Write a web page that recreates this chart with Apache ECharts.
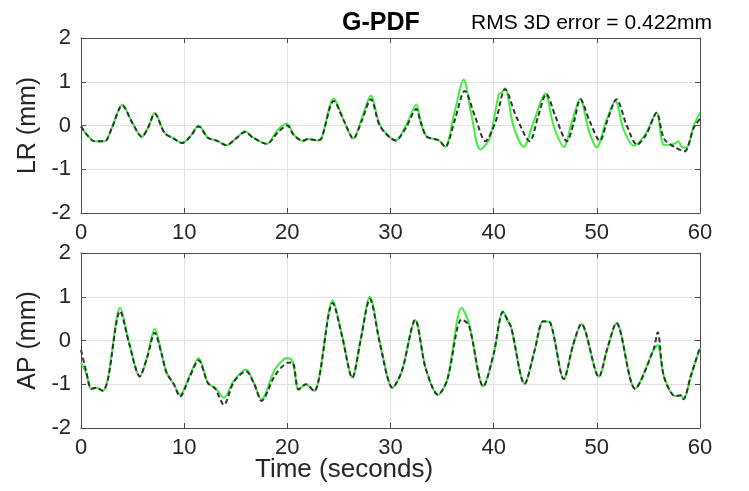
<!DOCTYPE html>
<html>
<head>
<meta charset="utf-8">
<title>G-PDF</title>
<script src="https://cdn.jsdelivr.net/npm/echarts@6/dist/echarts.min.js"></script>
<style>
  html, body { margin: 0; padding: 0; background: #fff; }
  #chart { width: 749px; height: 491px; }
</style>
</head>
<body>
<div id="chart"></div>
<script>
// LR panel - reference motion (black dashed)
const lrRefTime = [0, 0.6, 1.3, 2.3, 3.0, 4.0, 5.0, 5.9, 6.5, 7.15, 8.1, 9.0, 9.8, 10.6, 11.4, 12.3, 13.2, 14.1, 15.0, 15.9, 16.7, 18.0, 19.1, 20.0,
  20.6, 21.5, 22.0, 22.9, 23.3, 24.5, 25.5, 26.4, 27.2, 28.1, 29.0, 30.5, 31.5, 32.5, 32.9, 33.5, 34.7, 35.3, 36.2, 37.2, 38.2, 39.2,
  40.2, 41.1, 42.2, 43.5, 44.3, 45.1, 46.0, 47.1, 47.8, 48.4, 49.3, 50.3, 51.0, 51.9, 52.9, 53.9, 54.8, 55.8, 56.5, 57.5, 58.5, 59.4, 60];
const lrRefVal = [-0.02, -0.22, -0.36, -0.36, -0.05, 0.46, 0.05, -0.26, -0.05, 0.27, -0.17, -0.30, -0.40, -0.25, -0.02, -0.28, -0.35, -0.45, -0.30, -0.15, -0.28, -0.42, -0.15, 0.00,
  -0.21, -0.35, -0.31, -0.34, -0.30, 0.56, 0.10, -0.30, 0.10, 0.60, -0.02, -0.34, -0.05, 0.38, 0.10, -0.25, -0.34, -0.49, 0.10, 0.79, 0.20, -0.36,
  0.10, 0.83, 0.20, -0.36, 0.20, 0.72, 0.20, -0.36, 0.10, 0.60, 0.10, -0.35, 0.10, 0.60, 0.00, -0.44, -0.20, 0.29, -0.30, -0.49, -0.59, -0.05, 0.15];

// LR panel - G-PDF estimate (green)
const lrEstTime = [0, 0.6, 1.3, 2.3, 3.0, 4.0, 5.0, 5.9, 6.5, 7.15, 8.1, 9.0, 9.8, 10.6, 11.4, 12.3, 13.2, 14.1, 15.0, 15.9, 16.7, 18.0, 19.1, 20.0,
  20.6, 21.5, 22.0, 22.9, 23.3, 24.5, 25.5, 26.4, 27.2, 28.1, 29.0, 30.5, 31.5, 32.5, 32.9, 33.5, 34.7, 35.3, 36.2, 37.1, 37.8, 38.7,
  39.6, 40.5, 40.8, 41.1, 41.9, 42.9, 43.9, 45.0, 45.8, 46.8, 47.6, 48.4, 49.2, 50.0, 50.9, 51.8, 52.6, 53.6, 54.7, 55.8, 56.5, 57.5, 57.9, 58.3, 58.7, 59.4, 60];
const lrEstVal = [-0.02, -0.22, -0.36, -0.36, -0.05, 0.48, 0.05, -0.26, -0.05, 0.29, -0.17, -0.30, -0.40, -0.25, 0.00, -0.28, -0.35, -0.45, -0.30, -0.13, -0.28, -0.42, -0.09, 0.04,
  -0.21, -0.35, -0.31, -0.34, -0.30, 0.62, 0.10, -0.30, 0.15, 0.68, 0.00, -0.34, 0.00, 0.48, 0.10, -0.25, -0.34, -0.49, 0.30, 1.05, 0.30, -0.55,
  -0.30, 0.72, 0.76, 0.85, 0.00, -0.49, 0.10, 0.73, 0.00, -0.49, 0.10, 0.62, -0.10, -0.50, 0.10, 0.56, -0.10, -0.46, -0.20, 0.29, -0.44, -0.42, -0.36, -0.50, -0.50, 0.00, 0.30];

// AP panel - shared sample times
const apTime = [0, 0.5, 1.0, 1.5, 2.1, 2.6, 3.8, 4.7, 5.7, 6.4, 7.15, 7.8, 8.3, 9.0, 9.6, 10.5, 11.4, 12.3, 13.0, 13.85, 14.8, 16.0, 16.8, 17.5, 18.8, 20.0,
  20.5, 21.1, 21.8, 22.6, 24.4, 25.3, 26.3, 27.1, 28.0, 29.0, 30.2, 31.1, 32.4, 33.4, 34.6, 35.5, 36.9, 37.6, 39.0, 40.0,
  40.9, 41.4, 41.7, 43.0, 44.0, 44.8, 45.5, 46.8, 47.7, 48.5, 50.2, 51.0, 51.9, 53.7, 55.5, 55.9, 56.5, 57.6, 58.1, 58.4, 59.1, 60];
const apRefVal = [-0.22, -0.70, -1.10, -1.08, -1.15, -0.90, 0.67, -0.10, -0.82, -0.40, 0.18, -0.30, -0.74, -1.00, -1.28, -0.85, -0.45, -0.97, -1.10, -1.47, -0.95, -0.70, -1.00, -1.38, -0.80, -0.51,
  -0.50, -1.12, -1.00, -1.16, 0.86, 0.10, -0.85, 0.00, 0.95, -0.10, -1.08, -0.70, 0.47, -0.63, -1.24, -0.90, 0.48, 0.35, -1.05, -0.30,
  0.65, 0.44, 0.30, -0.99, -0.20, 0.44, 0.40, -0.88, -0.10, 0.38, -0.83, -0.20, 0.40, -1.10, -0.20, 0.19, -0.82, -1.27, -1.25, -1.34, -0.82, -0.15];
const apEstVal = [-0.51, -0.75, -1.12, -1.08, -1.15, -0.88, 0.75, -0.08, -0.82, -0.38, 0.27, -0.28, -0.74, -1.00, -1.24, -0.82, -0.40, -0.97, -1.08, -1.31, -0.92, -0.66, -1.00, -1.35, -0.66, -0.40,
  -0.47, -1.12, -1.00, -1.16, 0.92, 0.12, -0.85, 0.02, 1.00, -0.08, -1.08, -0.70, 0.47, -0.63, -1.24, -0.90, 0.75, 0.40, -1.05, -0.32,
  0.67, 0.44, 0.30, -0.99, -0.20, 0.44, 0.40, -0.88, -0.10, 0.38, -0.83, -0.20, 0.40, -1.10, -0.22, -0.10, -0.82, -1.27, -1.25, -1.34, -0.82, -0.17];

const xTicks = [0, 10, 20, 30, 40, 50, 60];
const yTicks = [-2, -1, 0, 1, 2];

const FONT = '"Liberation Sans", Arial, sans-serif';
const TEXT = '#262626';
const AXIS = '#4d4d4d';
const GRID = '#e2e2e2';
const GREEN = '#3cf03c';
const DARK = '#333333';

function pairs(ts, vs) {
  return ts.map((t, i) => [t, vs[i]]);
}

function xAxisFor(gridIndex, top) {
  return {
    type: 'value', gridIndex: gridIndex, position: top ? 'top' : 'bottom',
    min: xTicks[0], max: xTicks[xTicks.length - 1], interval: 10,
    axisLine: { show: true, onZero: false, lineStyle: { color: AXIS, width: 1 } },
    axisTick: { show: true, inside: true, length: 5, lineStyle: { color: AXIS } },
    axisLabel: top ? { show: false } : { show: true, color: TEXT, fontFamily: FONT, fontSize: 22, margin: 9 },
    splitLine: { show: !top, lineStyle: { color: GRID, width: 1 } }
  };
}

function yAxisFor(gridIndex, right, name) {
  return {
    type: 'value', gridIndex: gridIndex, position: right ? 'right' : 'left',
    min: yTicks[0], max: yTicks[yTicks.length - 1], interval: 1,
    name: right ? '' : name, nameLocation: 'middle', nameGap: 34, nameRotate: 90,
    nameTextStyle: { color: TEXT, fontFamily: FONT, fontSize: 25 },
    axisLine: { show: true, onZero: false, lineStyle: { color: AXIS, width: 1 } },
    axisTick: { show: true, inside: true, length: 5, lineStyle: { color: AXIS } },
    axisLabel: right ? { show: false } : { show: true, color: TEXT, fontFamily: FONT, fontSize: 22, margin: 10 },
    splitLine: { show: !right, lineStyle: { color: GRID, width: 1 } }
  };
}

function line(data, xi, yi, dashed) {
  return {
    type: 'line', xAxisIndex: xi, yAxisIndex: yi, data: data,
    showSymbol: false, smooth: 0.3, z: dashed ? 3 : 2,
    lineStyle: dashed
      ? { color: DARK, width: 2, type: [5, 3] }
      : { color: GREEN, width: 2 }
  };
}

const chart = echarts.init(document.getElementById('chart'), null, { renderer: 'canvas' });

chart.setOption({
  animation: false,
  backgroundColor: '#fff',
  title: [
    { text: 'G-PDF', left: 337, top: 6, textStyle: { color: '#000', fontFamily: FONT, fontSize: 25, fontWeight: 'bold' } },
    { text: 'RMS 3D error = 0.422mm', left: 466, top: 8, textStyle: { color: '#000', fontFamily: FONT, fontSize: 21, fontWeight: 'normal' } }
  ],
  grid: [
    { left: 81, top: 38, width: 619, height: 175, show: false },
    { left: 81, top: 253, width: 619, height: 175, show: false }
  ],
  xAxis: [xAxisFor(0, false), xAxisFor(0, true), xAxisFor(1, false), xAxisFor(1, true)],
  yAxis: [yAxisFor(0, false, 'LR (mm)'), yAxisFor(0, true), yAxisFor(1, false, 'AP (mm)'), yAxisFor(1, true)],
  graphic: [
    { type: 'text', left: 255, top: 457, style: { text: 'Time (seconds)', fill: TEXT, font: '26px ' + FONT } }
  ],
  series: [
    line(pairs(lrEstTime, lrEstVal), 0, 0, false),
    line(pairs(lrRefTime, lrRefVal), 0, 0, true),
    line(pairs(apTime, apEstVal), 2, 2, false),
    line(pairs(apTime, apRefVal), 2, 2, true)
  ]
});
</script>
</body>
</html>
